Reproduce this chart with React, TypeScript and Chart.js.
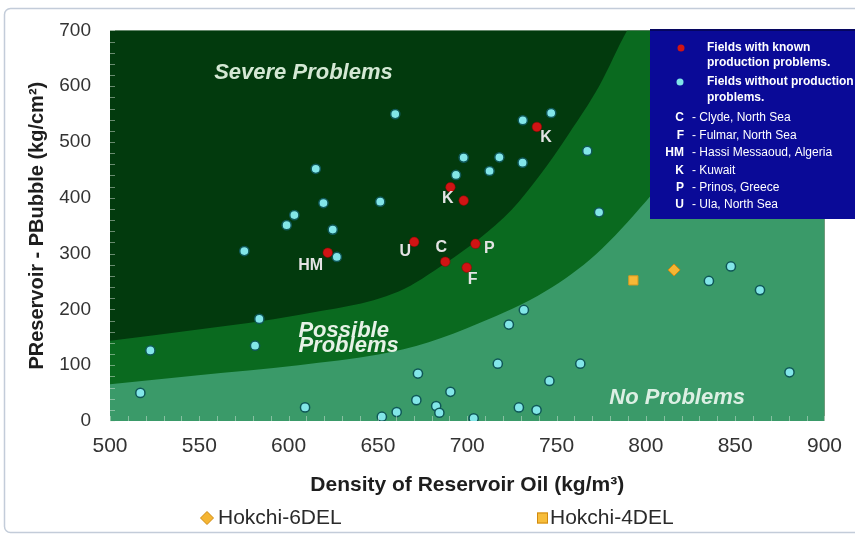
import React, { useEffect, useRef } from "react";
import { Chart, registerables } from "chart.js";

Chart.register(...registerables);

// ---------------- data ----------------
// Fields with known production problems (red)
const knownX = [739, 690.6, 698, 670.3, 687.7, 704.6, 699.7, 621.9];
const knownY = [527, 419, 395, 321, 285.5, 317.6, 274.9, 301.6];
const knownLabels = ["K", "", "K", "U", "C", "P", "F", "HM"];

// Fields without production problems (cyan)
const okX = [
  659.7, 615.2, 619.5, 651.3, 603.2, 598.9, 624.7, 575.2, 627, 583.6, 522.6, 581.2, 517, 609.2,
  652.2, 660.5, 731.1, 747, 698, 718, 731, 693.7, 712.5, 767.2, 773.8, 731.7, 723.3, 717.1, 763.3,
  672.4, 746, 690.6, 671.5, 682.6, 684.4, 728.9, 738.8, 703.6, 847.6, 835.3, 863.9, 880.4,
];
const okY = [
  550, 452, 390.6, 393, 369, 351, 343, 304.6, 294, 183, 126.5, 135, 50.4, 24.4, 7.7, 16, 539, 552,
  472, 472.6, 463, 441, 448, 484, 374, 199, 172.8, 102.7, 102.7, 85, 71.8, 52.3, 37.4, 26.7, 14.8,
  24.3, 19.6, 4.8, 277, 251, 234.6, 87.3,
];

// Hokchi wells
const hokchi6X = [815.8];
const hokchi6Y = [270.7];
const hokchi4X = [793];
const hokchi4Y = [252];

// Region boundaries
const severeX = [500, 549.4, 605.5, 661.6, 687.9, 706.5, 725, 740.1, 756.9, 773.8, 789.5, 810, 900];
const severeY = [144, 164, 190, 232, 283, 326, 379, 438, 515, 600, 700, 800, 800];
const noProbX = [500, 549.4, 605.5, 650.3, 678.4, 706.5, 744, 772.1, 800.1, 809.1, 818.7, 835.5, 860, 900];
const noProbY = [66, 82, 100, 119, 141, 175, 233, 299, 394, 429, 483, 700, 800, 800];

// Axis ticks
const xMin = 500, xMax = 900, xStep = 50;
const yMin = 0, yMax = 700, yStep = 100;

// Legend box texts
const legendCodes = ["C", "F", "HM", "K", "P", "U"];
const legendNames = [
  "- Clyde, North Sea",
  "- Fulmar, North Sea",
  "- Hassi Messaoud, Algeria",
  "- Kuwait",
  "- Prinos, Greece",
  "- Ula, North Sea",
];

// ---------------- styles ----------------
const SANS = "'Liberation Sans', Arial, sans-serif";
const DARK = "#023a0d";
const MEDIUM = "#0a6a1f";
const LIGHT = "#3a9a69";

const labelDX = [9, 0, -16, -9, -4, 14, 6, -17];
const labelDY = [11, 0, -2, 10, -14, 5, 12, 13];

const pts = (xs: number[], ys: number[]) => xs.map((x, i) => ({ x, y: ys[i] }));

const decorPlugin = {
  id: "decor",
  beforeDraw(chart: any) {
    const { ctx, chartArea: a } = chart;
    ctx.save();
    // outer frame
    ctx.strokeStyle = "#c3ccd9";
    ctx.lineWidth = 1.5;
    ctx.beginPath();
    (ctx as any).roundRect(4.5, 8.5, 870, 524, 6);
    ctx.stroke();
    // severe region background
    ctx.fillStyle = DARK;
    ctx.fillRect(a.left, a.top, a.right - a.left, a.bottom - a.top);
    ctx.restore();
  },
  afterDatasetsDraw(chart: any) {
    const { ctx, chartArea: a, scales } = chart;
    const xs = scales.x, ys = scales.y;
    ctx.save();
    // minor ticks
    ctx.strokeStyle = "rgba(230,240,230,0.45)";
    ctx.lineWidth = 1;
    for (let v = yMin; v <= yMax; v += 20) {
      const p = Math.round(ys.getPixelForValue(v)) + 0.5;
      ctx.beginPath();
      ctx.moveTo(a.left, p);
      ctx.lineTo(a.left + 5, p);
      ctx.stroke();
    }
    for (let v = xMin; v <= xMax; v += 10) {
      const p = Math.round(xs.getPixelForValue(v)) + 0.5;
      ctx.beginPath();
      ctx.moveTo(p, a.bottom);
      ctx.lineTo(p, a.bottom - 5);
      ctx.stroke();
    }

    // region labels
    ctx.font = `italic bold 22px ${SANS}`;
    ctx.textBaseline = "middle";
    ctx.fillStyle = "#d4e8d4";
    ctx.textAlign = "center";
    ctx.fillText("Severe Problems", xs.getPixelForValue(608.3), ys.getPixelForValue(623));
    ctx.fillStyle = "#e6f2e6";
    ctx.textAlign = "left";
    ctx.fillText("Possible", xs.getPixelForValue(605.5), ys.getPixelForValue(162));
    ctx.fillText("Problems", xs.getPixelForValue(605.5), ys.getPixelForValue(134));
    ctx.textAlign = "center";
    ctx.fillStyle = "#dcefe4";
    ctx.fillText("No Problems", xs.getPixelForValue(817.5), ys.getPixelForValue(41));

    // red point labels
    ctx.font = `bold 16px ${SANS}`;
    ctx.fillStyle = "#e4e4e4";
    knownLabels.forEach((t, i) => {
      if (!t) return;
      ctx.fillText(
        t,
        xs.getPixelForValue(knownX[i]) + labelDX[i],
        ys.getPixelForValue(knownY[i]) + labelDY[i]
      );
    });

    // legend box
    ctx.fillStyle = "#0a0a97";
    ctx.fillRect(650, 29, 210, 190);
    ctx.fillStyle = "#060660";
    ctx.fillRect(650, 29, 210, 2);
    ctx.fillStyle = "#d01414";
    ctx.beginPath();
    ctx.arc(681, 48, 3.5, 0, Math.PI * 2);
    ctx.fill();
    ctx.fillStyle = "#80e4e8";
    ctx.beginPath();
    ctx.arc(680, 82, 3.5, 0, Math.PI * 2);
    ctx.fill();
    ctx.fillStyle = "#ffffff";
    ctx.textAlign = "left";
    ctx.font = `bold 12px ${SANS}`;
    ctx.fillText("Fields with known", 707, 48);
    ctx.fillText("production problems.", 707, 63);
    ctx.fillText("Fields without production", 707, 82);
    ctx.fillText("problems.", 707, 98);
    const rowY = [118, 135.5, 153, 170.5, 187.5, 205];
    legendCodes.forEach((c, i) => {
      ctx.font = `bold 12px ${SANS}`;
      ctx.textAlign = "right";
      ctx.fillText(c, 684, rowY[i]);
      ctx.font = `12px ${SANS}`;
      ctx.textAlign = "left";
      ctx.fillText(legendNames[i], 692, rowY[i]);
    });

    // bottom legend
    const ly = 518;
    ctx.fillStyle = "#f5b533";
    ctx.strokeStyle = "#d08a10";
    ctx.lineWidth = 1;
    ctx.beginPath();
    ctx.moveTo(207, ly - 6.5);
    ctx.lineTo(213.5, ly);
    ctx.lineTo(207, ly + 6.5);
    ctx.lineTo(200.5, ly);
    ctx.closePath();
    ctx.fill();
    ctx.stroke();
    ctx.fillStyle = "#f7bd3a";
    ctx.fillRect(537, ly - 5.5, 11, 11);
    ctx.strokeRect(537.5, ly - 5, 10, 10);
    ctx.fillStyle = "#2a2a2a";
    ctx.font = `21px ${SANS}`;
    ctx.textAlign = "left";
    ctx.fillText("Hokchi-6DEL", 218, ly);
    ctx.fillText("Hokchi-4DEL", 550, ly);
    ctx.restore();
  },
};

export default function App() {
  const ref = useRef<HTMLCanvasElement>(null);
  useEffect(() => {
    const chart = new Chart(ref.current as HTMLCanvasElement, {
      type: "scatter",
      data: {
        datasets: [
          {
            label: "Red",
            data: pts(knownX, knownY),
            pointRadius: 4.8,
            backgroundColor: "#d01414",
            borderColor: "#900000",
            borderWidth: 0.5,
            order: 1,
          } as any,
          {
            label: "Cyan",
            data: pts(okX, okY),
            pointRadius: 4.6,
            backgroundColor: "#82e6e8",
            borderColor: "#0f5858",
            borderWidth: 1.5,
            order: 2,
          },
          {
            label: "Hokchi-6DEL",
            data: pts(hokchi6X, hokchi6Y),
            pointStyle: "rectRot",
            pointRadius: 6,
            backgroundColor: "#f5b533",
            borderColor: "#d08a10",
            borderWidth: 1,
            order: 0,
          },
          {
            label: "Hokchi-4DEL",
            data: pts(hokchi4X, hokchi4Y),
            pointStyle: "rect",
            pointRadius: 6.5,
            backgroundColor: "#f7b836",
            borderColor: "#d89a20",
            borderWidth: 1,
            order: 0,
          },
          {
            label: "noBoundary",
            data: pts(noProbX, noProbY),
            showLine: true,
            pointRadius: 0,
            borderWidth: 0,
            borderColor: "rgba(0,0,0,0)",
            backgroundColor: LIGHT,
            fill: "start",
            cubicInterpolationMode: "monotone",
            order: 9,
          },
          {
            label: "severeBoundary",
            data: pts(severeX, severeY),
            showLine: true,
            pointRadius: 0,
            borderWidth: 0,
            borderColor: "rgba(0,0,0,0)",
            backgroundColor: MEDIUM,
            fill: "start",
            cubicInterpolationMode: "monotone",
            order: 10,
          },
        ],
      },
      options: {
        responsive: false,
        animation: false,
        devicePixelRatio: 1,
        layout: { padding: { left: 0, right: 30, top: 28, bottom: 39 } },
        plugins: { legend: { display: false }, tooltip: { enabled: false } },
        scales: {
          x: {
            type: "linear",
            min: xMin,
            max: xMax,
            grid: { display: false, drawTicks: false },
            border: { display: false },
            ticks: {
              stepSize: xStep,
              padding: 13,
              color: "#333",
              font: { family: SANS, size: 21 },
            },
            title: {
              display: true,
              text: "Density of Reservoir Oil (kg/m³)",
              color: "#1e1e1e",
              font: { family: SANS, size: 21, weight: "bold" },
              padding: { top: 0, bottom: 0 },
            },
            afterFit: (s: any) => {
              s.height = 77;
            },
          },
          y: {
            min: yMin,
            max: yMax,
            grid: { display: false, drawTicks: false },
            border: { display: false },
            ticks: {
              stepSize: yStep,
              padding: 19,
              color: "#333",
              font: { family: SANS, size: 19 },
            },
            title: {
              display: true,
              text: "PReservoir - PBubble (kg/cm²)",
              color: "#1e1e1e",
              font: { family: SANS, size: 20, weight: "bold" },
              padding: { top: 25, bottom: 0 },
            },
            afterFit: (s: any) => {
              s.width = 110;
            },
          },
        },
      } as any,
      plugins: [decorPlugin],
    });
    return () => chart.destroy();
  }, []);
  return (
    <div style={{ position: "absolute", left: 0, top: 0, width: 855, height: 537, background: "#fff" }}>
      <canvas ref={ref} width={855} height={537} style={{ display: "block", width: 855, height: 537 }} />
    </div>
  );
}
